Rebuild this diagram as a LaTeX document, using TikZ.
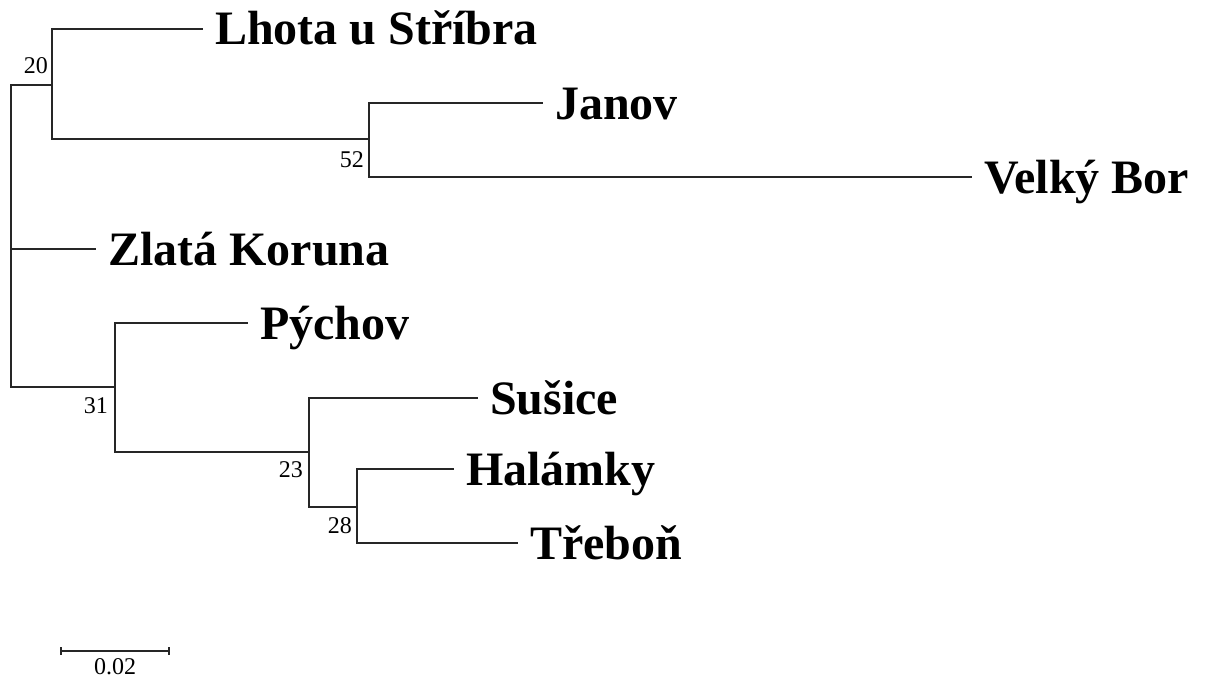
\documentclass[tikz,border=0pt]{standalone}
\usepackage{fontspec}
\setmainfont{Liberation Serif}
\usetikzlibrary{positioning}

\begin{document}
\begin{tikzpicture}[%
    x=1pt,
    y=-1pt,
    branch/.style={%
      draw=black!85,
      line width=2pt
    },
    leaf/.style={%
      anchor=base west,
      inner sep=0pt,
      xshift=12pt,
      yshift=-16pt,
      font=\fontsize{48}{58}\selectfont\bfseries
    },
    boot/.style={%
      anchor=base east,
      inner sep=0pt,
      xshift=-4pt,
      yshift=-26pt,
      font=\fontsize{24}{29}\selectfont
    }
  ]
    \useasboundingbox (0,0) rectangle (1211,677);

    % inner nodes of the tree
    \coordinate (root) at (11,249);
    \coordinate (n20) at (52,85);
    \coordinate (n52) at (369,139);
    \coordinate (n31) at (115,387);
    \coordinate (n23) at (309,452);
    \coordinate (n28) at (357,507);

    % tips
    \coordinate (tLhota) at (203,29);
    \coordinate (tJanov) at (543,103);
    \coordinate (tVelky) at (972,177);
    \coordinate (tZlata) at (96,249);
    \coordinate (tPychov) at (248,323);
    \coordinate (tSusice) at (478,398);
    \coordinate (tHalamky) at (454,469);
    \coordinate (tTrebon) at (518,543);

    \node[leaf] (lhota) at (tLhota) {Lhota u Stříbra};
    \node[leaf] (janov) at (tJanov) {Janov};
    \node[leaf] (velky) at (tVelky) {Velký Bor};
    \node[leaf] (zlata) at (tZlata) {Zlatá Koruna};
    \node[leaf] (pychov) at (tPychov) {Pýchov};
    \node[leaf] (susice) at (tSusice) {Sušice};
    \node[leaf] (halamky) at (tHalamky) {Halámky};
    \node[leaf] (trebon) at (tTrebon) {Třeboň};

    \draw[branch] (root) |- (n20)
                  (root) |- (tZlata)
                  (root) |- (n31);
    \draw[branch] (n20) |- (tLhota)
                  (n20) |- (n52);
    \draw[branch] (n52) |- (tJanov)
                  (n52) |- (tVelky);
    \draw[branch] (n31) |- (tPychov)
                  (n31) |- (n23);
    \draw[branch] (n23) |- (tSusice)
                  (n23) |- (n28);
    \draw[branch] (n28) |- (tHalamky)
                  (n28) |- (tTrebon);

    % bootstrap values
    \node[boot, yshift=37pt] (b20) at (n20) {20};
    \node[boot, xshift=-1pt, yshift=-2pt] (b52) at (n52) {52};
    \node[boot, xshift=-3pt] (b31) at (n31) {31};
    \node[boot, xshift=-2pt, yshift=1pt] (b23) at (n23) {23};
    \node[boot, xshift=-1pt] (b28) at (n28) {28};

    % scale bar
    \coordinate (sbL) at (61,651);
    \coordinate (sbR) at (169,651);
    \draw[branch] (sbL) -- (sbR);
    \draw[branch] ([yshift=4pt]sbL) -- ([yshift=-4pt]sbL);
    \draw[branch] ([yshift=4pt]sbR) -- ([yshift=-4pt]sbR);
    \path (sbL) -- (sbR) node[midway, anchor=base, yshift=-23pt,
      font=\fontsize{24}{29}\selectfont] (sblabel) {0.02};
\end{tikzpicture}
\end{document}
